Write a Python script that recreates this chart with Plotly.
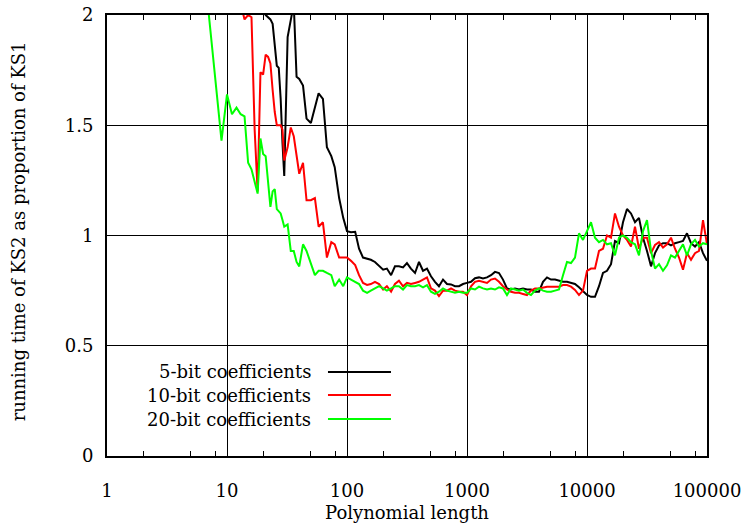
import plotly.graph_objects as go

# Polynomial lengths (shared grid)
lengths = [7, 8, 9,
           10, 11, 12, 13, 14, 15, 16, 17, 18, 19, 20, 21, 22, 23, 24, 25, 26, 27, 28, 29, 30,
           32, 34, 36, 38, 40, 43, 46, 50, 54, 58, 63, 68, 74, 79, 86, 93,
           100, 108, 117, 126, 136, 147, 158, 171, 185, 200, 215, 233, 251, 271, 293,
           316, 341, 369, 398, 430, 464, 501, 541, 584, 631, 681, 736, 794, 858, 926,
           1000, 1080, 1166, 1259, 1359, 1468, 1585, 1711, 1848, 1995, 2154, 2326, 2512, 2712, 2929,
           3162, 3415, 3687, 3981, 4299, 4642, 5012, 5412, 5843, 6310, 6813, 7356, 7943, 8577, 9261,
           10000, 10800, 11660, 12590, 13590, 14680, 15850, 17110, 18480, 19950, 21540, 23260, 25120, 27120, 29290,
           31620, 34150, 36870, 39810, 42990, 46420, 50120, 54120, 58430, 63100, 68130, 73560, 79430, 85770, 92610,
           100000]

# 20-bit coefficients (starts at length 7)
ks_20bit = [2.02, 1.72, 1.43,
            1.64, 1.55, 1.58, 1.55, 1.54, 1.33, 1.30, 1.24, 1.19, 1.44, 1.37, 1.36, 1.24, 1.13, 1.20, 1.21, 1.12, 1.11, 1.10, 1.07, 1.04,
            1.05, 0.93, 0.93, 0.88, 0.86, 0.96, 0.93, 0.87, 0.82, 0.84, 0.84, 0.83, 0.82, 0.77, 0.80, 0.77,
            0.81, 0.80, 0.79, 0.78, 0.75, 0.74, 0.75, 0.76, 0.77, 0.76, 0.75, 0.76, 0.77, 0.77, 0.755,
            0.775, 0.77, 0.77, 0.775, 0.765, 0.775, 0.745, 0.735, 0.745, 0.76, 0.75, 0.745, 0.74, 0.745, 0.74,
            0.74, 0.76, 0.755, 0.768, 0.76, 0.755, 0.76, 0.755, 0.765, 0.76, 0.73, 0.76, 0.755, 0.75, 0.755,
            0.74, 0.73, 0.75, 0.76, 0.75, 0.745, 0.745, 0.75, 0.755, 0.82, 0.88, 0.875, 0.90, 1.01, 0.98,
            1.02, 1.06, 0.99, 0.97, 0.98, 0.96, 0.965, 0.91, 0.99, 1.00, 0.99, 0.97, 0.96, 0.91, 1.02,
            1.07, 0.93, 0.85, 0.87, 0.84, 0.865, 0.91, 0.90, 0.93, 0.96, 0.91, 0.96, 0.98, 0.95, 0.965,
            0.96]

# 10-bit coefficients (starts at length 12)
ks_10bit = [2.2, 2.05, 1.98, 2.0, 1.99, 1.48, 1.20, 1.74, 1.73, 1.82, 1.81, 1.78, 1.66, 1.56, 1.50, 1.50, 1.50, 1.48, 1.34,
            1.40, 1.49, 1.45, 1.36, 1.28, 1.33, 1.16, 1.16, 1.17, 1.04, 1.06, 0.90, 0.97, 0.96, 0.90, 0.90,
            0.90, 0.885, 0.866, 0.82, 0.785, 0.776, 0.78, 0.79, 0.78, 0.755, 0.77, 0.745, 0.78, 0.795, 0.77,
            0.785, 0.78, 0.785, 0.79, 0.80, 0.81, 0.76, 0.75, 0.725, 0.75, 0.75, 0.76, 0.75, 0.745, 0.745,
            0.73, 0.77, 0.79, 0.795, 0.79, 0.785, 0.80, 0.805, 0.79, 0.77, 0.755, 0.745, 0.74, 0.74, 0.735,
            0.73, 0.75, 0.76, 0.76, 0.765, 0.768, 0.768, 0.768, 0.768, 0.775, 0.775, 0.768, 0.753, 0.73, 0.75,
            0.84, 0.85, 0.85, 0.93, 0.94, 1.00, 0.99, 1.10, 1.04, 1.00, 0.98, 0.95, 1.04, 0.94, 0.99,
            0.99, 0.92, 0.957, 0.97, 0.945, 0.96, 0.99, 0.94, 0.90, 0.845, 0.92, 0.89, 0.92, 0.93, 1.07,
            0.96]

# 5-bit coefficients (starts at length 19)
ks_5bit = [2.3, 2.02, 2.0, 1.99, 1.98, 1.96, 1.85, 1.77, 1.76, 1.62, 1.42, 1.27,
           1.90, 1.98, 2.05, 1.72, 1.71, 1.68, 1.53, 1.51, 1.585, 1.645, 1.62, 1.40, 1.36, 1.31, 1.17, 1.08,
           1.02, 1.015, 1.017, 0.94, 0.90, 0.896, 0.89, 0.88, 0.86, 0.845, 0.85, 0.82, 0.86, 0.86, 0.855,
           0.875, 0.85, 0.83, 0.88, 0.84, 0.85, 0.815, 0.79, 0.77, 0.80, 0.78, 0.778, 0.77, 0.77, 0.78,
           0.785, 0.79, 0.806, 0.81, 0.805, 0.81, 0.82, 0.835, 0.83, 0.80, 0.76, 0.755, 0.76, 0.755, 0.76,
           0.755, 0.755, 0.745, 0.745, 0.79, 0.81, 0.80, 0.80, 0.795, 0.79, 0.79, 0.785, 0.78, 0.765, 0.745,
           0.73, 0.722, 0.722, 0.77, 0.83, 0.84, 0.87, 0.975, 0.965, 1.06, 1.12, 1.10, 1.06, 1.08, 0.99,
           0.93, 0.86, 0.92, 0.955, 0.965, 0.965, 0.955, 0.965, 0.97, 0.975, 1.01, 0.965, 0.95, 0.97, 0.92,
           0.885]

series_names = ["5-bit coefficients", "10-bit coefficients", "20-bit coefficients"]
series_colors = ["#000000", "#ff0000", "#00ff00"]
series_values = [ks_5bit, ks_10bit, ks_20bit]

x_ticks = [1, 10, 100, 1000, 10000, 100000]
x_ticklabels = ["1", "10", "100", "1000", "10000", "100000"]
x_minor = [m * d for d in [1, 10, 100, 1000, 10000] for m in (2, 5, 8)]
y_ticks = [0, 0.5, 1, 1.5, 2]
y_ticklabels = ["0", "0.5", "1", "1.5", "2"]

FONT = "DejaVu Serif"
FS = 18

fig = go.Figure()
for name, color, vals in zip(series_names, series_colors, series_values):
    xs = lengths[len(lengths) - len(vals):]
    fig.add_trace(go.Scatter(x=xs, y=vals, mode="lines", name=name,
                             line=dict(color=color, width=2), showlegend=False))

# Manual legend (text right-aligned, sample line to the right), as in the reference
fig.add_shape(type="rect", xref="paper", yref="paper", x0=0.004, x1=0.488, y0=0.054, y1=0.222,
              fillcolor="white", line=dict(width=0), layer="between")
rows = [0.1905, 0.1383, 0.0839]
for name, color, yr in zip(series_names, series_colors, rows):
    fig.add_annotation(xref="paper", yref="paper", x=0.3433, y=yr, text=name, showarrow=False,
                       xanchor="right", yanchor="middle", font=dict(family=FONT, size=FS, color="black"))
    fig.add_shape(type="line", xref="paper", yref="paper", x0=0.3683, x1=0.4733, y0=yr, y1=yr,
                  line=dict(color=color, width=2), layer="above")

# Axis titles
fig.add_annotation(xref="paper", yref="paper", x=0.5, y=-0.127, text="Polynomial length",
                   showarrow=False, xanchor="center", yanchor="middle",
                   font=dict(family=FONT, size=FS, color="black"))
fig.add_annotation(xref="paper", yref="paper", x=-0.148, y=0.51, text="running time of KS2 as proportion of KS1",
                   showarrow=False, xanchor="center", yanchor="middle", textangle=-90,
                   font=dict(family=FONT, size=FS, color="black"))

fig.update_layout(
    width=745, height=523,
    margin=dict(l=107, r=38, t=15, b=67),
    paper_bgcolor="white", plot_bgcolor="white",
    font=dict(family=FONT, size=FS, color="black"),
    showlegend=False,
)
fig.update_xaxes(
    type="log", range=[0, 5], automargin=False,
    tickmode="array", tickvals=x_ticks, ticktext=x_ticklabels,
    ticks="inside", ticklen=8, tickwidth=1, tickcolor="black",
    showgrid=True, gridcolor="black", gridwidth=1,
    showline=True, linecolor="black", linewidth=2, mirror="ticks",
    minor=dict(tickmode="array", tickvals=x_minor, ticks="inside", ticklen=5, tickcolor="black", showgrid=False),
    ticklabelstandoff=17,
    tickfont=dict(family=FONT, size=FS),
    zeroline=False,
)
fig.update_yaxes(
    range=[0, 2], automargin=False,
    tickmode="array", tickvals=y_ticks, ticktext=y_ticklabels,
    ticks="inside", ticklen=8, tickwidth=1, tickcolor="black",
    showgrid=True, gridcolor="black", gridwidth=1,
    showline=True, linecolor="black", linewidth=2, mirror="ticks",
    ticklabelstandoff=8,
    tickfont=dict(family=FONT, size=FS),
    zeroline=False,
)

fig.write_html("out.html")
